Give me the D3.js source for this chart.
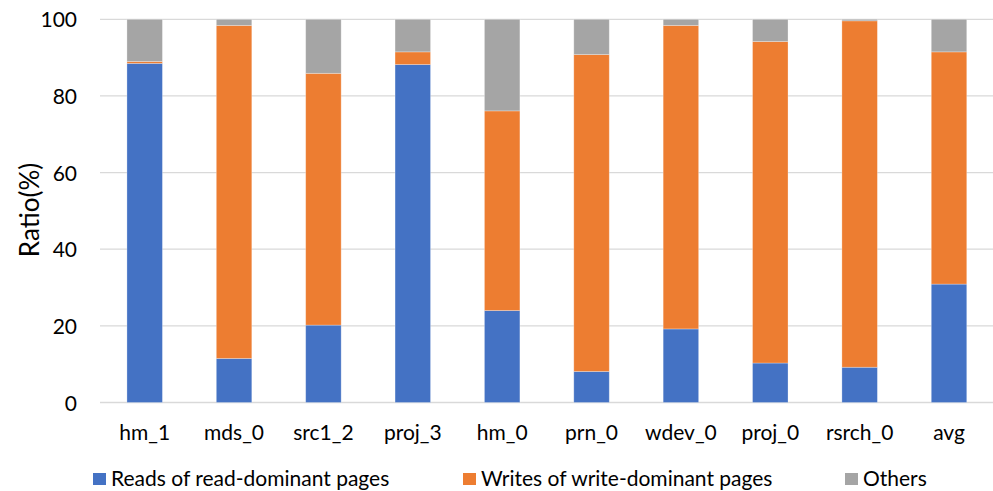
<!DOCTYPE html>
<html><head><meta charset="utf-8">
<script src="https://cdn.jsdelivr.net/npm/d3@7"></script>
<style>body{margin:0;background:#fff;} svg{display:block;} text{font-family:Lato,"Open Sans",sans-serif;fill:#000;}</style>
</head><body>
<svg id="c" width="993" height="491"></svg>
<script>
const categories = ["hm_1","mds_0","src1_2","proj_3","hm_0","prn_0","wdev_0","proj_0","rsrch_0","avg"];
const reads  = [88.5, 11.5, 20.2, 88.2, 24.0, 8.1, 19.2, 10.3, 9.2, 30.9];
const writes = [0.5, 86.9, 65.7, 3.3, 52.1, 82.7, 79.2, 83.9, 90.4, 60.6];
const others = [11.0, 1.6, 14.1, 8.5, 23.9, 9.2, 1.6, 5.8, 0.4, 8.5];
const seriesNames = ["Reads of read-dominant pages","Writes of write-dominant pages","Others"];
const colors = ["#4472C4","#ED7D31","#A5A5A5"];
const yTicks = [0,20,40,60,80,100];

const svg = d3.select("#c");
const m = {l:100, r:993.7, t:19.3, b:402.5};
const x = d3.scaleBand().domain(categories).range([m.l, m.r]).paddingInner(0.603).paddingOuter(0.3015);
const y = d3.scaleLinear().domain([0,100]).range([m.b, m.t]);

const g = svg.append("g");
g.selectAll("line.grid").data(yTicks).join("line")
  .attr("x1", m.l).attr("x2", m.r)
  .attr("y1", d=>y(d)).attr("y2", d=>y(d))
  .attr("stroke","#d9d9d9").attr("stroke-width",1.3);

const table = categories.map((c,i)=>({cat:c, s0:reads[i], s1:writes[i], s2:others[i]}));
const stack = d3.stack().keys(["s0","s1","s2"])(table);
stack.forEach((layer,k)=>{
  g.append("g").selectAll("rect").data(layer).join("rect")
    .attr("x", d=>x(d.data.cat))
    .attr("width", x.bandwidth())
    .attr("y", d=>y(d[1]))
    .attr("height", d=>y(d[0])-y(d[1]))
    .attr("fill", colors[k])
    .attr("stroke","#ffffff").attr("stroke-opacity",0.35).attr("stroke-width",0.8);
});

// y axis labels
const yAxis = d3.axisLeft(y).tickValues(yTicks).tickSize(0).tickPadding(0);
const ya = svg.append("g").attr("transform",`translate(77,0)`).call(yAxis);
ya.select(".domain").remove();
ya.selectAll("text").style("font-size","21px").attr("dy","0.36em").attr("fill","#000");

// x axis labels
const xAxis = d3.axisBottom(x).tickSize(0).tickPadding(0);
const xa = svg.append("g").attr("transform",`translate(0,432)`).call(xAxis);
xa.select(".domain").remove();
xa.selectAll("text").style("font-size","21px").attr("dy","0.36em").attr("fill","#000");

svg.append("text").attr("transform","translate(30,210) rotate(-90)")
  .attr("text-anchor","middle").attr("dy","0.36em").style("font-size","26px").text("Ratio(%)");

// legend
const legX = [93, 463, 845];
const leg = svg.append("g");
seriesNames.forEach((n,i)=>{
  leg.append("rect").attr("x",legX[i]).attr("y",473).attr("width",13).attr("height",12).attr("fill",colors[i]);
  leg.append("text").attr("x",legX[i]+18).attr("y",486).style("font-size","21px").text(n);
});
</script>
</body></html>
